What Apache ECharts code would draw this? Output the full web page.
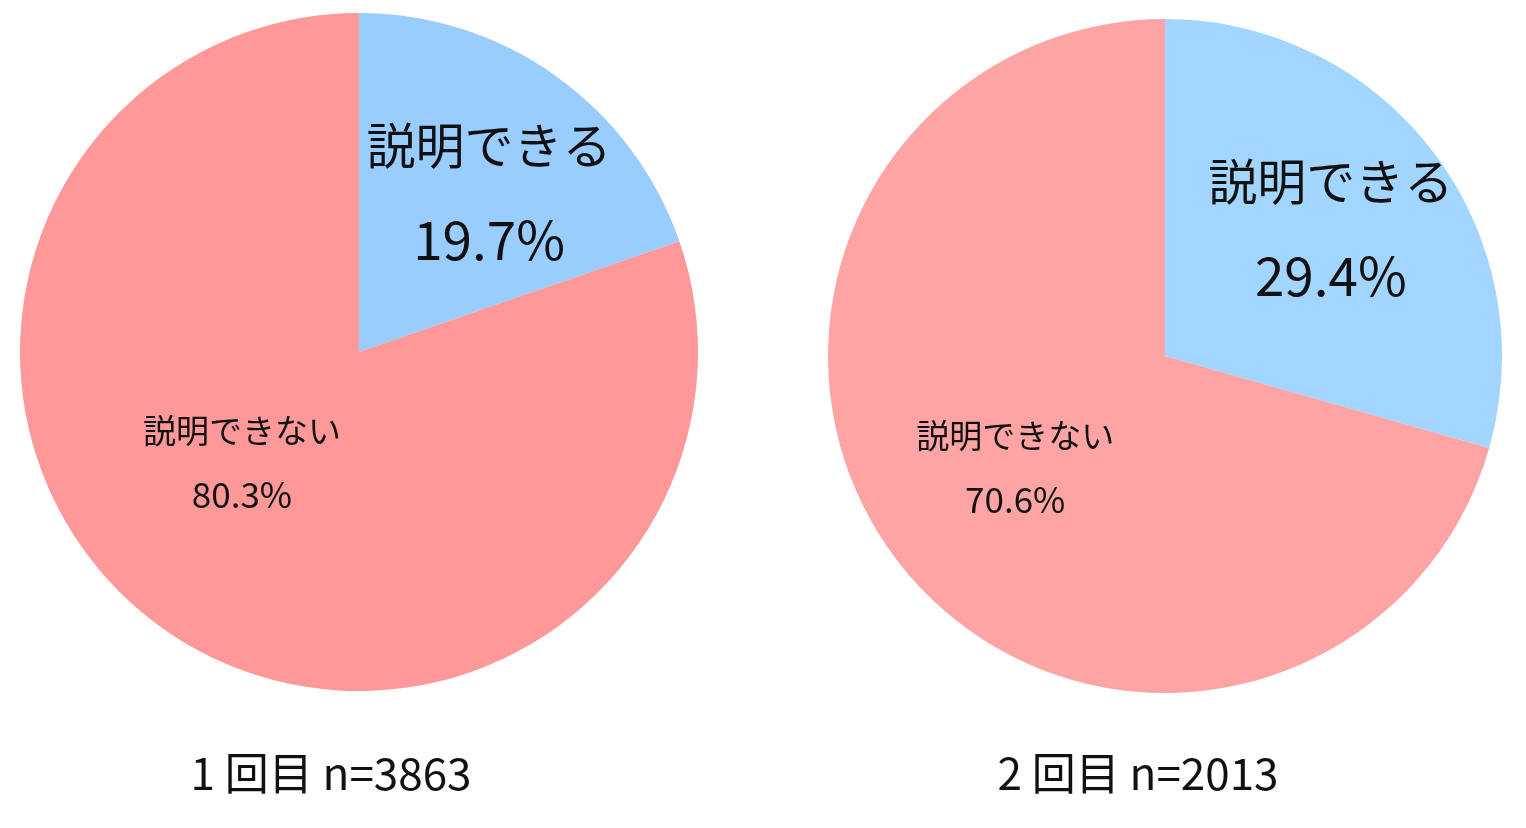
<!DOCTYPE html>
<html><head><meta charset="utf-8">
<script src="https://cdn.jsdelivr.net/npm/echarts@6/dist/echarts.min.js"></script>
<style>html,body{margin:0;padding:0;background:#fff}#c{width:1526px;height:828px}</style>
</head><body><div id="c"></div>
<script>
const categories = ['説明できる', '説明できない'];
const round1Values = [19.7, 80.3];
const round2Values = [29.4, 70.6];
const titles = ['1 回目 n=3863', '2 回目 n=2013'];

const FONT = '"Noto Sans CJK JP", "Noto Sans", sans-serif';
const chart = echarts.init(document.getElementById('c'), null, {renderer: 'canvas'});

function mkSeries(values, center, radius, colors, offsets) {
  return {
    type: 'pie',
    center: center,
    radius: radius,
    startAngle: 90,
    clockwise: true,
    silent: true,
    animation: false,
    data: categories.map((c, i) => ({
      name: c, value: values[i],
      itemStyle: {color: colors[i]},
      label: {
        formatter: i === 0 ? '{a|{b}}\n{b|{c}%}' : '{c|{b}}\n{d|{c}%}'
      }
    })),
    label: {
      show: true,
      position: 'inside',
      color: '#111',
      fontFamily: FONT,
      rich: {
        a: {fontSize: 49, fontFamily: FONT, color: '#111', lineHeight: 94, align: 'center'},
        b: {fontSize: 53, fontFamily: FONT, color: '#111', lineHeight: 94, align: 'center'},
        c: {fontSize: 33, fontFamily: FONT, color: '#111', lineHeight: 64, align: 'center'},
        d: {fontSize: 35, fontFamily: FONT, color: '#111', lineHeight: 64, align: 'center'}
      }
    },
    labelLine: {show: false},
    labelLayout: function (p) {
      const o = offsets[p.dataIndex];
      return {dx: o[0], dy: o[1]};
    }
  };
}

chart.setOption({
  backgroundColor: '#ffffff',
  title: [
    {text: titles[0], left: 326, top: 746, textAlign: 'center',
     textStyle: {fontSize: 44, fontWeight: 'normal', color: '#111', fontFamily: FONT}},
    {text: titles[1], left: 1133, top: 746, textAlign: 'center',
     textStyle: {fontSize: 44, fontWeight: 'normal', color: '#111', fontFamily: FONT}}
  ],
  series: [
    mkSeries(round1Values, [359, 352], [0, 339], ['#99CCFF', '#FF9999'], [[30, -19], [-17, -30]]),
    mkSeries(round2Values, [1165, 356], [0, 337], ['#A2D5FF', '#FFA4A4'], [[29, -24], [-13, 8]])
  ]
});
</script></body></html>
